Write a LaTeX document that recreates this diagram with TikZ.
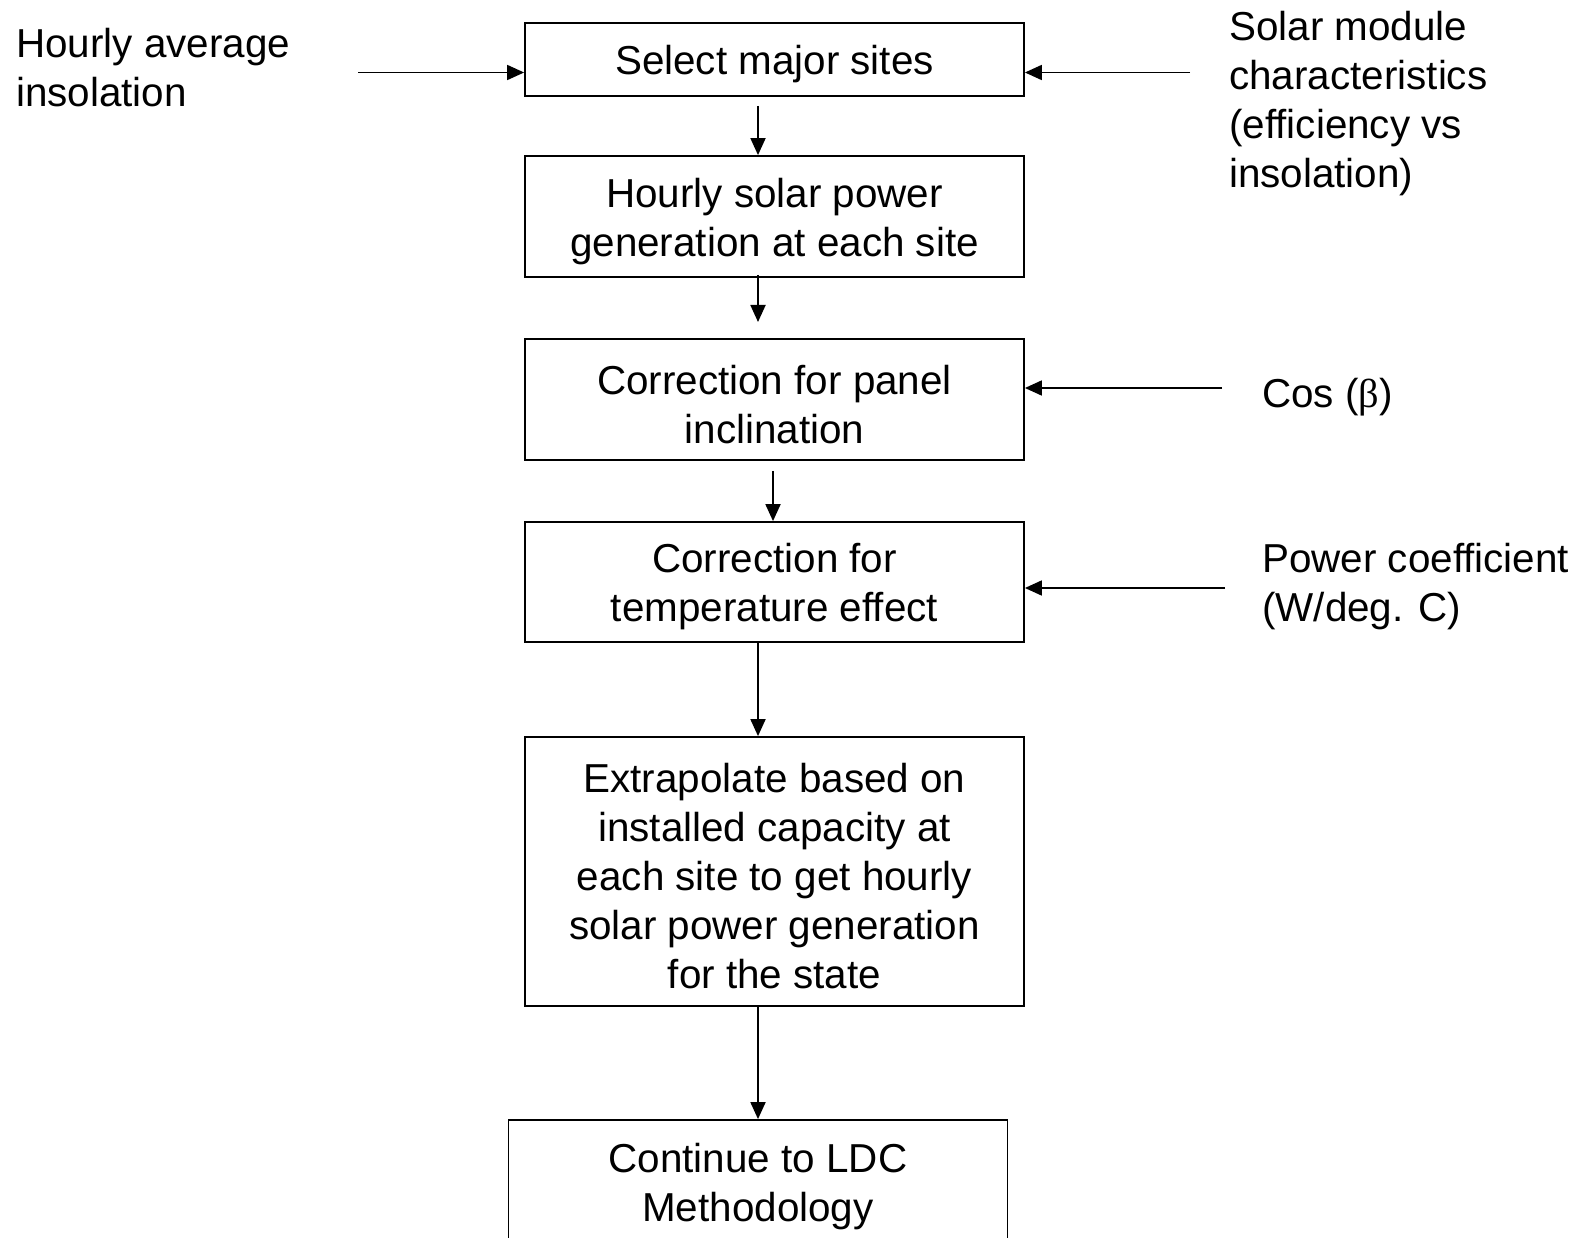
\documentclass[tikz,border=0pt]{standalone}
\usepackage{fontspec}
\setmainfont{Liberation Sans}
\newfontfamily\grkfont{Liberation Serif}
\usetikzlibrary{arrows.meta}
\begin{document}
\begin{tikzpicture}[x=1pt,y=-1pt,
  every node/.style={font=\fontsize{40.4}{49}\selectfont, inner sep=0pt},
  box/.style={draw, line width=1.8pt, minimum width=499pt},
  txt/.style={align=center},
  lbl/.style={anchor=west, align=left},
  arr/.style={line width=1.8pt, -{Triangle[length=17pt,width=15pt]}}]
\useasboundingbox (0,0) rectangle (1579,1238);
\node[box, minimum height=73pt] (b1) at (774.5,59.5) {};
\node[box, minimum height=121pt] (b2) at (774.5,216.5) {};
\node[box, minimum height=121pt] (b3) at (774.5,399.5) {};
\node[box, minimum height=120pt] (b4) at (774.5,582) {};
\node[box, minimum height=269pt] (b5) at (774.5,871.5) {};
\node[box, minimum height=124pt] (b6) at (758,1182) {};

\node[txt] (x1) at ([yshift=-5pt]b1.center) {Select major sites};
\node[txt] (x2) at ([yshift=-5pt]b2.center) {Hourly solar power\\generation at each site};
\node[txt] (x3) at ([yshift=-5pt]b3.center) {Correction for panel\\inclination};
\node[txt] (x4) at ([yshift=-5pt]b4.center) {Correction for\\temperature effect};
\node[txt] (x5) at ([yshift=-5pt]b5.center) {Extrapolate based on\\installed capacity at\\each site to get hourly\\solar power generation\\for the state};
\node[txt] (x6) at ([yshift=-5pt]b6.center) {Continue to LDC\\Methodology};

\node[lbl] (t1) at (16,68) {Hourly average\\insolation};
\node[lbl] (t2) at (1229,104) {Solar module\\characteristics\\(efficiency vs\\insolation)};
\node[lbl] (t3) at (1262,397) {Cos ({\grkfont β})};
\node[lbl] (t4) at (1262,586.5) {Power coefficient\\(W/deg. C)};

\coordinate (s1) at (358,72.5);
\coordinate (s2) at (1190,72.5);
\coordinate (s3) at (1222,388);
\coordinate (s4) at (1225,588);
\coordinate (e2) at (758,322);

\draw[arr] (s1) -- (s1 -| b1.west);
\draw[arr] (s2) -- (s2 -| b1.east);
\draw[arr] (s3) -- (s3 -| b3.east);
\draw[arr] (s4) -- (s4 -| b4.east);

\draw[arr] ([yshift=-9pt]b1.south -| e2) -- (b2.north -| e2);
\draw[arr] ([yshift=3pt]b2.south -| e2) -- (e2);
\draw[arr] ([yshift=-10pt]b3.south -| 773,0) -- (b4.north -| 773,0);
\draw[arr] (b4.south -| e2) -- (b5.north -| e2);
\draw[arr] (b5.south -| e2) -- (b6.north -| e2);
\end{tikzpicture}
\end{document}
